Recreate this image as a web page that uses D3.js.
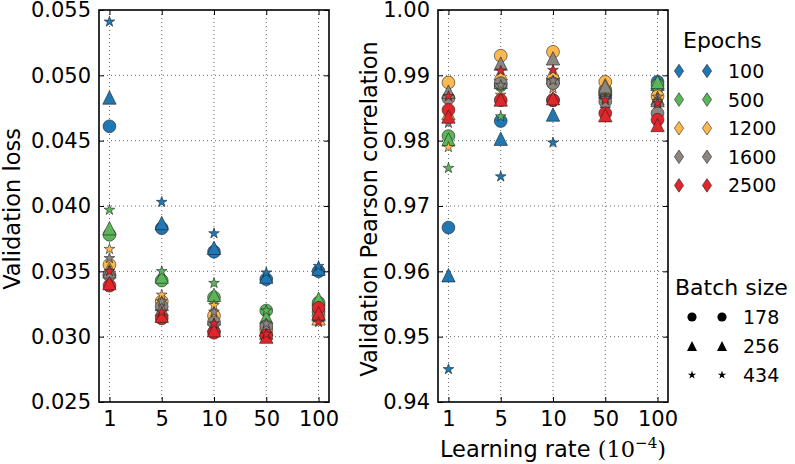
<!DOCTYPE html>
<html><head><meta charset="utf-8">
<script src="https://cdn.jsdelivr.net/npm/d3@7"></script>
<style>body{margin:0;background:#fff}svg{display:block}text{font-family:"DejaVu Sans",sans-serif;fill:#000}</style>
</head><body><svg id="c" width="795" height="464"></svg>
<script>
// ---------- data ----------
const learningRates = ["1", "5", "10", "50", "100"];
const epochs = ["100", "500", "1200", "1600", "2500"];
const batchSizes = ["178", "256", "434"];
const epochColors = ["#1f77b4", "#5cb55a", "#fdb94d", "#8c8680", "#e0252b"];
const lossTicks = [0.025, 0.030, 0.035, 0.040, 0.045, 0.050, 0.055];
const corrTicks = [0.94, 0.95, 0.96, 0.97, 0.98, 0.99, 1.00];

// validation loss [epoch][batch][lr]
const loss100 = [[0.0461, 0.0383, 0.0365, 0.0344, 0.0350], [0.0483, 0.0387, 0.0368, 0.0346, 0.0352], [0.0541, 0.0403, 0.0379, 0.0349, 0.0354]];
const loss500 = [[0.0378, 0.0343, 0.0330, 0.0320, 0.0326], [0.0383, 0.0346, 0.0332, 0.0315, 0.0329], [0.0397, 0.0350, 0.0341, 0.0320, 0.0323]];
const loss1200 = [[0.0355, 0.0327, 0.0316, 0.0305, 0.0316], [0.0352, 0.0325, 0.0314, 0.0303, 0.0314], [0.0367, 0.0332, 0.0324, 0.0307, 0.0316]];
const loss1600 = [[0.0347, 0.0323, 0.0311, 0.0308, 0.0319], [0.0350, 0.0321, 0.0309, 0.0306, 0.0317], [0.0360, 0.0327, 0.0319, 0.0310, 0.0318]];
const loss2500 = [[0.0339, 0.0314, 0.0303, 0.0301, 0.0322], [0.0341, 0.0316, 0.0305, 0.0300, 0.0318], [0.0350, 0.0319, 0.0310, 0.0302, 0.0311]];

// validation Pearson correlation [epoch][batch][lr]
const corr100 = [[0.9667, 0.9830, 0.9862, 0.9870, 0.9890], [0.9594, 0.9803, 0.9840, 0.9875, 0.9887], [0.9450, 0.9745, 0.9797, 0.9849, 0.9872]];
const corr500 = [[0.9807, 0.9885, 0.9893, 0.9878, 0.9885], [0.9802, 0.9890, 0.9897, 0.9880, 0.9890], [0.9758, 0.9837, 0.9860, 0.9872, 0.9870]];
const corr1200 = [[0.9889, 0.9930, 0.9936, 0.9890, 0.9868], [0.9842, 0.9903, 0.9905, 0.9885, 0.9865], [0.9790, 0.9870, 0.9880, 0.9868, 0.9867]];
const corr1600 = [[0.9865, 0.9888, 0.9888, 0.9860, 0.9842], [0.9875, 0.9918, 0.9926, 0.9883, 0.9862], [0.9827, 0.9885, 0.9892, 0.9865, 0.9860]];
const corr2500 = [[0.9847, 0.9862, 0.9862, 0.9842, 0.9832], [0.9837, 0.9863, 0.9865, 0.9839, 0.9824], [0.9868, 0.9907, 0.9908, 0.9862, 0.9857]];

const lossData = [loss100, loss500, loss1200, loss1600, loss2500];
const corrData = [corr100, corr500, corr1200, corr1600, corr2500];

// ---------- drawing ----------
const svg = d3.select("#c");
const plotTop = 10, plotBottom = 402;

function starPath(R) {
  const r = R * 0.382; let p = "";
  for (let i = 0; i < 10; i++) {
    const a = -Math.PI / 2 + i * Math.PI / 5, rr = i % 2 ? r : R;
    p += (i ? "L" : "M") + (rr * Math.cos(a)).toFixed(2) + "," + (rr * Math.sin(a)).toFixed(2);
  }
  return p + "Z";
}
function circlePath(r) { return `M${r},0A${r},${r} 0 1,1 ${-r},0A${r},${r} 0 1,1 ${r},0Z`; }
function triPath(h) { return `M0,${-h}L${-h},${h}L${h},${h}Z`; }
const markerPaths = [circlePath(6.4), triPath(6.7), starPath(5.6)];
const legendMarker = [circlePath(4.6), triPath(5), starPath(4.4)];
const diamond = "M0,-6.8L4.6,0L0,6.8L-4.6,0Z";

function panel(x0, x1, ticks, fmt, data, ylabel, ylabelX) {
  const x = d3.scalePoint().domain(learningRates).range([x0, x1]).padding(0.2);
  const y = d3.scaleLinear().domain([ticks[0], ticks[ticks.length - 1]]).range([plotBottom, plotTop]);
  const g = svg.append("g");
  g.selectAll(".gx").data(learningRates).join("line")
    .attr("x1", d => x(d)).attr("x2", d => x(d)).attr("y1", plotTop).attr("y2", plotBottom)
    .attr("stroke", "#000").attr("stroke-width", 0.6).attr("stroke-dasharray", "1,3");
  g.selectAll(".gy").data(ticks.slice(1, -1)).join("line")
    .attr("x1", x0).attr("x2", x1).attr("y1", d => y(d)).attr("y2", d => y(d))
    .attr("stroke", "#000").attr("stroke-width", 0.6).attr("stroke-dasharray", "1,3");
  data.forEach((ep, ei) => {
    ep.forEach((vals, bi) => {
      g.selectAll(null).data(vals).join("path")
        .attr("d", markerPaths[bi])
        .attr("transform", (v, li) => `translate(${x(learningRates[li])},${y(v)})`)
        .attr("fill", epochColors[ei]).attr("stroke", "#222").attr("stroke-width", 0.6);
    });
  });
  const tl = 5;
  const ya = g.append("g").attr("transform", `translate(${x0},0)`)
    .call(d3.axisLeft(y).tickValues(ticks).tickFormat(d3.format(fmt)).tickSize(-tl).tickPadding(8));
  const yr = g.append("g").attr("transform", `translate(${x1},0)`)
    .call(d3.axisRight(y).tickValues(ticks).tickFormat("").tickSize(-tl));
  const xa = g.append("g").attr("transform", `translate(0,${plotBottom})`)
    .call(d3.axisBottom(x).tickSize(-tl).tickPadding(9));
  const xt = g.append("g").attr("transform", `translate(0,${plotTop})`)
    .call(d3.axisTop(x).tickFormat("").tickSize(-tl));
  [ya, yr, xa, xt].forEach(a => {
    a.select(".domain").remove();
    a.selectAll("line").attr("stroke", "#000").attr("stroke-width", 1);
    a.selectAll("text").attr("font-size", 21).attr("font-family", "DejaVu Sans").attr("fill", "#000");
  });
  g.append("rect").attr("x", x0).attr("y", plotTop).attr("width", x1 - x0).attr("height", plotBottom - plotTop)
    .attr("fill", "none").attr("stroke", "#000").attr("stroke-width", 1.6);
  g.append("text").attr("transform", `translate(${ylabelX},${(plotTop + plotBottom) / 2 + 3}) rotate(-90)`)
    .attr("text-anchor", "middle").attr("font-size", 22.5).text(ylabel);
}

panel(99, 329, lossTicks, ".3f", lossData, "Validation loss", 20);
panel(438, 668, corrTicks, ".2f", corrData, "Validation Pearson correlation", 377);

const xl = svg.append("text").attr("x", 553).attr("y", 457).attr("text-anchor", "middle").attr("font-size", 22.5);
xl.append("tspan").text("Learning rate ");
xl.append("tspan").attr("font-family", "DejaVu Serif").text("(10");
xl.append("tspan").attr("font-family", "DejaVu Serif").attr("font-size", 15).attr("dy", -9).text("−4");
xl.append("tspan").attr("font-family", "DejaVu Serif").attr("dy", 9).text(")");

svg.append("text").attr("x", 683).attr("y", 48).attr("font-size", 22).text("Epochs");
epochs.forEach((e, i) => {
  const cy = 71 + i * 28.6;
  [679, 707].forEach(cx => svg.append("path").attr("d", diamond).attr("transform", `translate(${cx},${cy})`)
    .attr("fill", epochColors[i]).attr("stroke", "#222").attr("stroke-width", 0.6));
  svg.append("text").attr("x", 728).attr("y", cy + 7).attr("font-size", 19).text(e);
});
svg.append("text").attr("x", 675).attr("y", 295).attr("font-size", 22).text("Batch size");
batchSizes.forEach((b, i) => {
  const cy = 317 + i * 29;
  [692, 722].forEach(cx => svg.append("path").attr("d", legendMarker[i]).attr("transform", `translate(${cx},${cy})`)
    .attr("fill", "#000"));
  svg.append("text").attr("x", 743).attr("y", cy + 7).attr("font-size", 19).text(b);
});
</script></body></html>
